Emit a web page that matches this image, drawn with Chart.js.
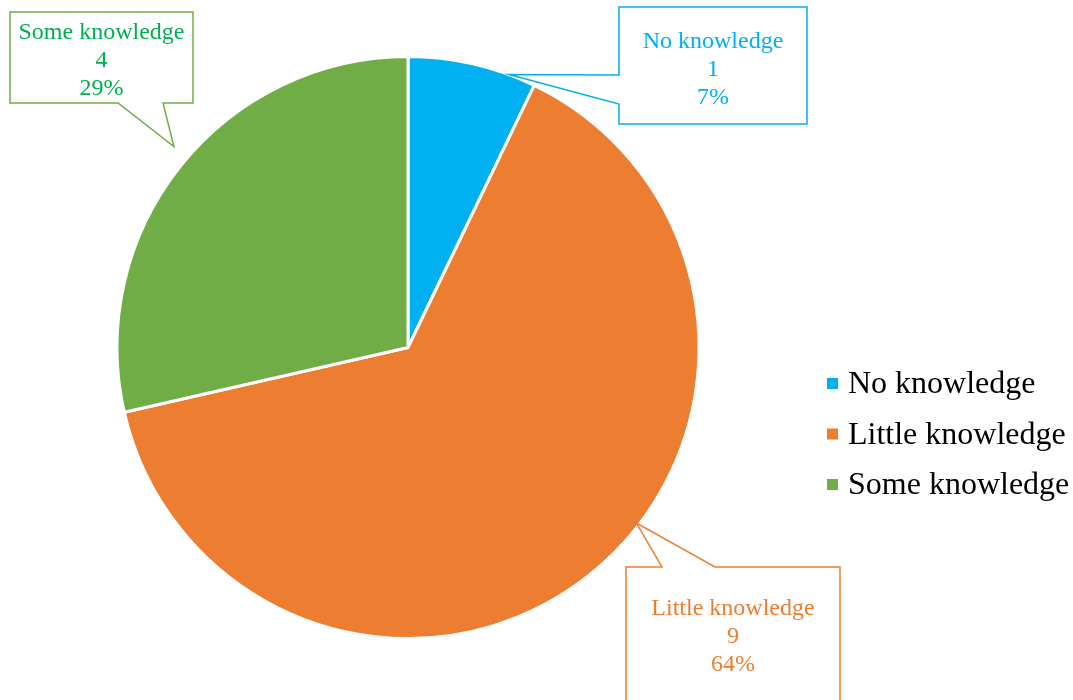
<!DOCTYPE html>
<html lang="en">
<head>
    <meta charset="UTF-8">
    <title>Knowledge pie</title>
    <style>
        body { margin: 0; background: #fff; }
        #wrap { width: 1073px; height: 700px; position: relative; }
    </style>
</head>
<body>
    <script src="https://cdn.jsdelivr.net/npm/chart.js"></script>
    <div id="wrap"><canvas id="myPieChart"></canvas></div>
    <script>
        // data
        const categories = ['No knowledge', 'Little knowledge', 'Some knowledge'];
        const counts = [1, 9, 4];

        const sliceColors = ['#00B0F0', '#ED7D31', '#70AD47'];
        const textColors = ['#00B0F0', '#ED7D31', '#00B050'];

        // callout boxes: box = [x1, y1, x2, y2], notch on one side, tip given as
        // fraction along the arc and a factor of the outer radius
        const callouts = [
            { box: [619, 7, 807, 124], side: 'left', notch: [75, 104], t: 0.79, rf: 1.0 },
            { box: [626, 567, 840, 712], side: 'top', notch: [662, 715], t: 0.44, rf: 0.99 },
            { box: [10, 12, 193, 103], side: 'bottom', notch: [118, 163], t: 0.52, rf: 1.06 }
        ];

        const total = counts.reduce((a, b) => a + b, 0);

        const calloutPlugin = {
            id: 'callouts',
            afterDraw(chart) {
                const ctx = chart.ctx;
                const arcs = chart.getDatasetMeta(0).data;
                ctx.save();
                callouts.forEach((c, i) => {
                    const p = arcs[i].getProps(['x', 'y', 'startAngle', 'endAngle', 'outerRadius'], true);
                    const ang = p.startAngle + (p.endAngle - p.startAngle) * c.t;
                    const tx = p.x + Math.cos(ang) * p.outerRadius * c.rf;
                    const ty = p.y + Math.sin(ang) * p.outerRadius * c.rf;
                    const [x1, y1, x2, y2] = c.box;
                    const [a, b] = c.notch;
                    ctx.beginPath();
                    if (c.side === 'bottom') {
                        ctx.moveTo(x1, y1); ctx.lineTo(x2, y1); ctx.lineTo(x2, y2);
                        ctx.lineTo(b, y2); ctx.lineTo(tx, ty); ctx.lineTo(a, y2); ctx.lineTo(x1, y2);
                    } else if (c.side === 'left') {
                        ctx.moveTo(x1, y1); ctx.lineTo(x2, y1); ctx.lineTo(x2, y2); ctx.lineTo(x1, y2);
                        ctx.lineTo(x1, b); ctx.lineTo(tx, ty); ctx.lineTo(x1, a);
                    } else {
                        ctx.moveTo(x1, y1); ctx.lineTo(a, y1); ctx.lineTo(tx, ty); ctx.lineTo(b, y1);
                        ctx.lineTo(x2, y1); ctx.lineTo(x2, y2); ctx.lineTo(x1, y2);
                    }
                    ctx.closePath();
                    ctx.fillStyle = '#fff';
                    ctx.fill();
                    ctx.strokeStyle = sliceColors[i];
                    ctx.lineWidth = 1.5;
                    ctx.stroke();

                    const pct = Math.round(counts[i] / total * 100) + '%';
                    const lines = [categories[i], String(counts[i]), pct];
                    const cx = (x1 + x2) / 2;
                    const top = (c.side === 'top') ? 609 : (c.side === 'left' ? 42 : 33);
                    ctx.fillStyle = textColors[i];
                    ctx.font = '24px "Liberation Serif", "Times New Roman", serif';
                    ctx.textAlign = 'center';
                    ctx.textBaseline = 'middle';
                    lines.forEach((s, k) => ctx.fillText(s, cx, top + k * 28));
                });

                // legend
                ctx.font = '32px "Liberation Serif", "Times New Roman", serif';
                ctx.textAlign = 'left';
                ctx.textBaseline = 'middle';
                categories.forEach((name, i) => {
                    const y = 383.5 + i * 50.5;
                    ctx.fillStyle = sliceColors[i];
                    ctx.fillRect(827, y - 5.5, 11, 11);
                    ctx.fillStyle = '#000';
                    ctx.fillText(name, 848, y + 1.5);
                });
                ctx.restore();
            }
        };

        new Chart(document.getElementById('myPieChart').getContext('2d'), {
            type: 'pie',
            data: {
                labels: categories,
                datasets: [{
                    data: counts,
                    backgroundColor: sliceColors,
                    borderColor: '#ffffff',
                    borderWidth: 3
                }]
            },
            options: {
                responsive: true,
                maintainAspectRatio: false,
                animation: false,
                layout: { padding: { left: 115, right: 372, top: 55, bottom: 60 } },
                plugins: {
                    legend: { display: false },
                    tooltip: { enabled: false }
                }
            },
            plugins: [calloutPlugin]
        });
    </script>
</body>
</html>
